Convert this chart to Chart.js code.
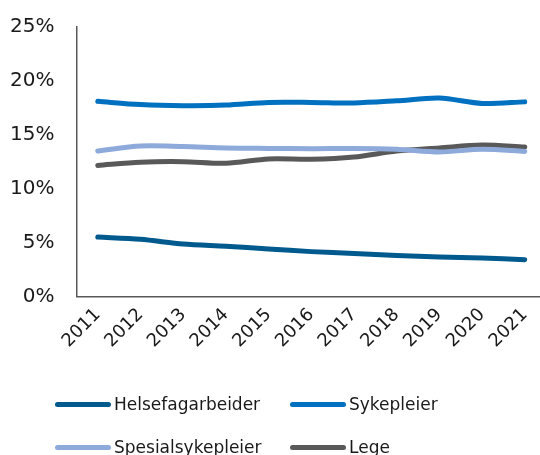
<!DOCTYPE html>
<html><head><meta charset="utf-8">
<script src="https://cdn.jsdelivr.net/npm/chart.js@4"></script>
<style>
html,body{margin:0;padding:0;background:#fff;overflow:hidden;width:540px;height:455px;}
#wrap{position:absolute;left:-12px;top:-7px;width:560px;height:367px;}
#legend{position:absolute;left:0;top:0;width:540px;height:455px;pointer-events:none;font-family:"DejaVu Sans",sans-serif;font-size:17px;color:#1a1a1a;}
.item{position:absolute;display:flex;align-items:center;white-space:nowrap;}
.sw{width:56px;height:5px;border-radius:3px;margin-right:3px;}
</style></head>
<body>
<div id="wrap"><canvas id="c"></canvas></div>
<div id="legend"></div>
<script>
const years = ['2011','2012','2013','2014','2015','2016','2017','2018','2019','2020','2021'];
const seriesNames = ['Helsefagarbeider','Sykepleier','Spesialsykepleier','Lege'];
const helsefagarbeider = [5.5, 5.3, 4.85, 4.65, 4.4, 4.15, 3.98, 3.8, 3.65, 3.55, 3.4];
const sykepleier = [18.1, 17.8, 17.7, 17.75, 18.0, 18.0, 17.95, 18.15, 18.4, 17.9, 18.05];
const spesialsykepleier = [13.5, 13.95, 13.9, 13.77, 13.73, 13.7, 13.73, 13.65, 13.4, 13.65, 13.45];
const lege = [12.15, 12.45, 12.5, 12.35, 12.75, 12.72, 12.93, 13.48, 13.77, 14.04, 13.86];
const yTicks = [0, 5, 10, 15, 20, 25];
const colors = ['#005A8E', '#0070C0', '#8EAADB', '#595959'];
const values = [helsefagarbeider, sykepleier, spesialsykepleier, lege];

const font = "'DejaVu Sans', sans-serif";
const datasets = seriesNames.map((n,i)=>({
  label:n, data:values[i], borderColor:colors[i], backgroundColor:colors[i],
  borderWidth:5, pointRadius:0, tension:0.3, borderCapStyle:'round', borderJoinStyle:'round', fill:false
}));

new Chart(document.getElementById('c'), {
  type:'line',
  data:{labels:years, datasets},
  options:{
    responsive:true, maintainAspectRatio:false, animation:false,
    layout:{padding:{top:17,left:0,right:0,bottom:0}},
    plugins:{legend:{display:false}, tooltip:{enabled:false}},
    scales:{
      x:{offset:true, grid:{display:false, drawTicks:false},
         border:{display:true,color:'#595959',width:1.5},
         ticks:{font:{family:font,size:18},color:'#1a1a1a',maxRotation:45,minRotation:45,padding:8}},
      y:{min:0,max:25, grid:{display:false, drawTicks:false},
         border:{display:true,color:'#595959',width:1.5},
         afterBuildTicks:(ax)=>{ax.ticks=yTicks.map(v=>({value:v}));},
         ticks:{font:{family:font,size:20},color:'#1a1a1a',padding:22,callback:v=>v+'%'}}
    }
  }
});

const leg = document.getElementById('legend');
const pos = [[55,404],[290,404],[55,447],[290,447]];
seriesNames.forEach((n,i)=>{
  const d=document.createElement('div'); d.className='item';
  d.style.left=pos[i][0]+'px'; d.style.top=(pos[i][1]-12)+'px'; d.style.height='24px';
  d.innerHTML='<div class="sw" style="background:'+colors[i]+'"></div><span>'+n+'</span>';
  leg.appendChild(d);
});
</script>
</body></html>
